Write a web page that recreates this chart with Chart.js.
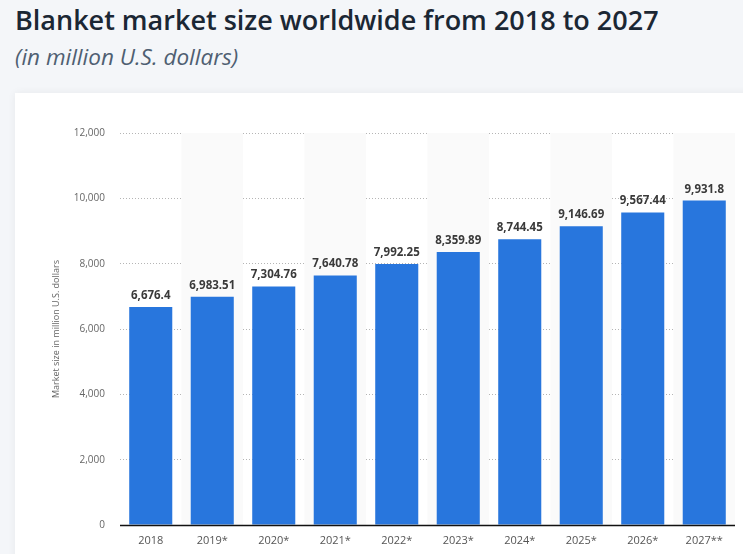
<!DOCTYPE html>
<html>
<head>
<meta charset="utf-8">
<script src="https://cdn.jsdelivr.net/npm/chart.js@4.4.1/dist/chart.umd.min.js"></script>
<style>
  html, body { margin: 0; padding: 0; width: 743px; height: 554px; overflow: hidden; background: #f4f6f9; font-family: "Open Sans", sans-serif; }
  #title { position: absolute; left: 15px; top: 1px; font-size: 27px; font-weight: 600; color: #1b2734; white-space: nowrap; }
  #subtitle { position: absolute; left: 15px; top: 41px; font-size: 22.5px; font-style: italic; color: #4f5f72; white-space: nowrap; }
  #card { position: absolute; left: 15px; top: 93px; width: 740px; height: 470px; background: #ffffff; box-shadow: 0 0 8px rgba(0,0,0,0.06); }
  #wrap { position: absolute; left: 15px; top: 93px; width: 728px; height: 461px; }
</style>
</head>
<body>
<div id="title">Blanket market size worldwide from 2018 to 2027</div>
<div id="subtitle">(in million U.S. dollars)</div>
<div id="card"></div>
<div id="wrap"><canvas id="c" width="728" height="461"></canvas></div>
<script>
const categories = ["2018", "2019*", "2020*", "2021*", "2022*", "2023*", "2024*", "2025*", "2026*", "2027**"];
const marketSize = [6676.4, 6983.51, 7304.76, 7640.78, 7992.25, 8359.89, 8744.45, 9146.69, 9567.44, 9931.8];
const valueLabels = ["6,676.4", "6,983.51", "7,304.76", "7,640.78", "7,992.25", "8,359.89", "8,744.45", "9,146.69", "9,567.44", "9,931.8"];
const yTicks = [0, 2000, 4000, 6000, 8000, 10000, 12000];
const yAxisTitle = "Market size in million U.S. dollars";

const bandPlugin = {
  id: 'bands',
  beforeDatasetsDraw(chart) {
    const {ctx, chartArea, scales} = chart;
    const x = scales.x;
    ctx.save();
    ctx.fillStyle = '#fafafa';
    const w = (chartArea.right - chartArea.left) / categories.length;
    categories.forEach((c, i) => {
      if (i % 2 === 1) {
        const cx = x.getPixelForValue(i);
        ctx.fillRect(cx - w / 2, chartArea.top, w, chartArea.bottom - chartArea.top);
      }
    });
    ctx.restore();
  }
};

const labelPlugin = {
  id: 'valueLabels',
  afterDatasetsDraw(chart) {
    const {ctx, chartArea} = chart;
    const meta = chart.getDatasetMeta(0);
    ctx.save();
    ctx.strokeStyle = '#111111';
    ctx.lineWidth = 1.3;
    ctx.beginPath();
    ctx.moveTo(chartArea.left, chartArea.bottom + 0.5);
    ctx.lineTo(chartArea.right, chartArea.bottom + 0.5);
    ctx.stroke();
    ctx.font = 'bold 11.5px "Open Sans", sans-serif';
    ctx.fillStyle = '#3a3a3a';
    ctx.textAlign = 'center';
    ctx.textBaseline = 'alphabetic';
    meta.data.forEach((bar, i) => {
      ctx.fillText(valueLabels[i], bar.x, bar.y - 8);
    });
    ctx.restore();
  }
};

new Chart(document.getElementById('c'), {
  type: 'bar',
  data: {
    labels: categories,
    datasets: [{
      data: marketSize,
      backgroundColor: '#2876dd',
      barPercentage: 0.7,
      categoryPercentage: 1.0
    }]
  },
  options: {
    responsive: false,
    animation: false,
    events: [],
    layout: { padding: { top: 40, right: 8, left: 0, bottom: 0 } },
    plugins: { legend: { display: false }, tooltip: { enabled: false } },
    scales: {
      x: {
        grid: { display: false, drawTicks: false },
        border: { display: false },
        ticks: { color: '#555555', font: { family: '"Open Sans", sans-serif', size: 11 }, padding: 9, maxRotation: 0 },
        afterFit(s) { s.height = 29; }
      },
      y: {
        min: 0, max: 12000,
        afterBuildTicks(s) { s.ticks = yTicks.map(v => ({ value: v })); },
        grid: { color: '#b5b5b5', drawTicks: false, lineWidth: 1 },
        border: { display: false, dash: [1, 2] },
        ticks: {
          color: '#666666', font: { family: '"Open Sans", sans-serif', size: 10 }, padding: 15,
          callback: v => v.toLocaleString('en-US')
        },
        title: { display: true, text: yAxisTitle, color: '#666666', font: { family: '"Open Sans", sans-serif', size: 9 }, padding: { top: 36, bottom: 0 } },
        afterFit(s) { s.width = 105; }
      }
    }
  },
  plugins: [bandPlugin, labelPlugin]
});
</script>
</body>
</html>
